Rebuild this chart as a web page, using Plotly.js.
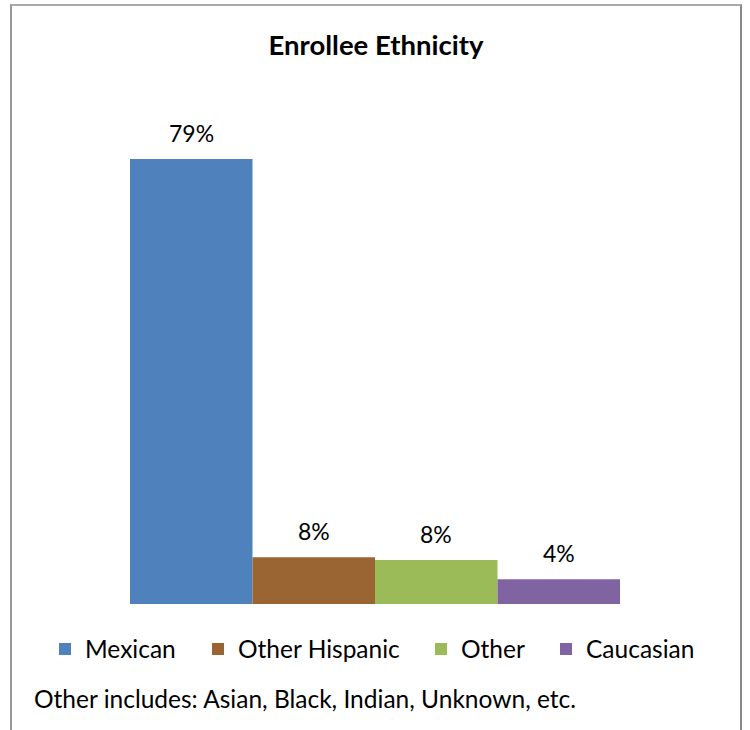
<!DOCTYPE html>
<html>
<head>
<meta charset="utf-8">
<script src="https://cdn.plot.ly/plotly-3.0.1.min.js"></script>
<style>
  html, body { margin: 0; padding: 0; background: #fff; }
  #wrap { position: relative; width: 750px; height: 730px; }
  #chart { position: absolute; left: 0; top: 0; width: 750px; height: 730px; }
  #frame { position: absolute; left: 10px; top: 4px; width: 728px; height: 740px;
           border-left: 2px solid #999; border-top: 2px solid #aaa; border-right: 2px solid #888; pointer-events: none; }
</style>
</head>
<body>
<div id="wrap">
  <div id="chart"></div>
  <div id="frame"></div>
</div>
<script>
const categories = ["Mexican", "Other Hispanic", "Other", "Caucasian"];
const values = [79, 8.3, 7.8, 4.4];
const valueLabels = ["79%", "8%", "8%", "4%"];
const colors = ["#4F81BD", "#9A6433", "#9BBB59", "#8064A2"];
const chartTitle = "Enrollee Ethnicity";
const footnote = "Other includes: Asian, Black, Indian, Unknown, etc.";

const FONT = "Lato, 'Open Sans', sans-serif";
const ML = 10, MR = 10, PW = 750 - ML - MR;
// pixel x where each legend entry's text begins
const legendTextX = [85, 238, 461, 586];
const legendIds = ["legend", "legend2", "legend3", "legend4"];

const traces = categories.map((name, i) => ({
  type: "bar",
  name: name,
  x: [i],
  y: [values[i]],
  width: [1],
  legend: legendIds[i],
  marker: { color: colors[i], line: { width: 0 } },
  hoverinfo: "skip"
}));

const annotations = categories.map((name, i) => ({
  x: i, y: values[i], xref: "x", yref: "y",
  text: valueLabels[i], showarrow: false,
  yanchor: "middle", yshift: 26,
  font: { family: FONT, size: 23, color: "#000" }
}));

annotations.push({
  xref: "paper", yref: "paper",
  x: (32 - ML) / PW, y: -(698 - 604) / 474,
  xanchor: "left", yanchor: "middle",
  text: footnote, showarrow: false,
  font: { family: FONT, size: 24.5, color: "#000" }
});

const layout = {
  width: 750, height: 730,
  margin: { l: ML, r: MR, t: 130, b: 126, pad: 0 },
  paper_bgcolor: "rgba(0,0,0,0)",
  plot_bgcolor: "rgba(0,0,0,0)",
  title: {
    text: "<b>" + chartTitle + "</b>",
    x: (376 - ML) / PW, xanchor: "center", xref: "paper",
    y: 1 - 45 / 730, yanchor: "middle",
    font: { family: FONT, size: 27.5, color: "#000" }
  },
  barmode: "overlay",
  showlegend: true,
  xaxis: { domain: [(130 - ML) / PW, (620 - ML) / PW], range: [-0.5, 3.5], visible: false, fixedrange: true },
  yaxis: { range: [0, 474 / (445 / 79)], visible: false, fixedrange: true },
  annotations: annotations
};

legendIds.forEach((id, i) => {
  layout[id] = {
    orientation: "h",
    x: (legendTextX[i] - 40 - ML) / PW, xanchor: "left",
    y: -(649 - 604) / 474, yanchor: "middle",
    bgcolor: "rgba(0,0,0,0)",
    font: { family: FONT, size: 24.5, color: "#000" }
  };
});

Plotly.newPlot("chart", traces, layout, { displayModeBar: false, staticPlot: true });
</script>
</body>
</html>
